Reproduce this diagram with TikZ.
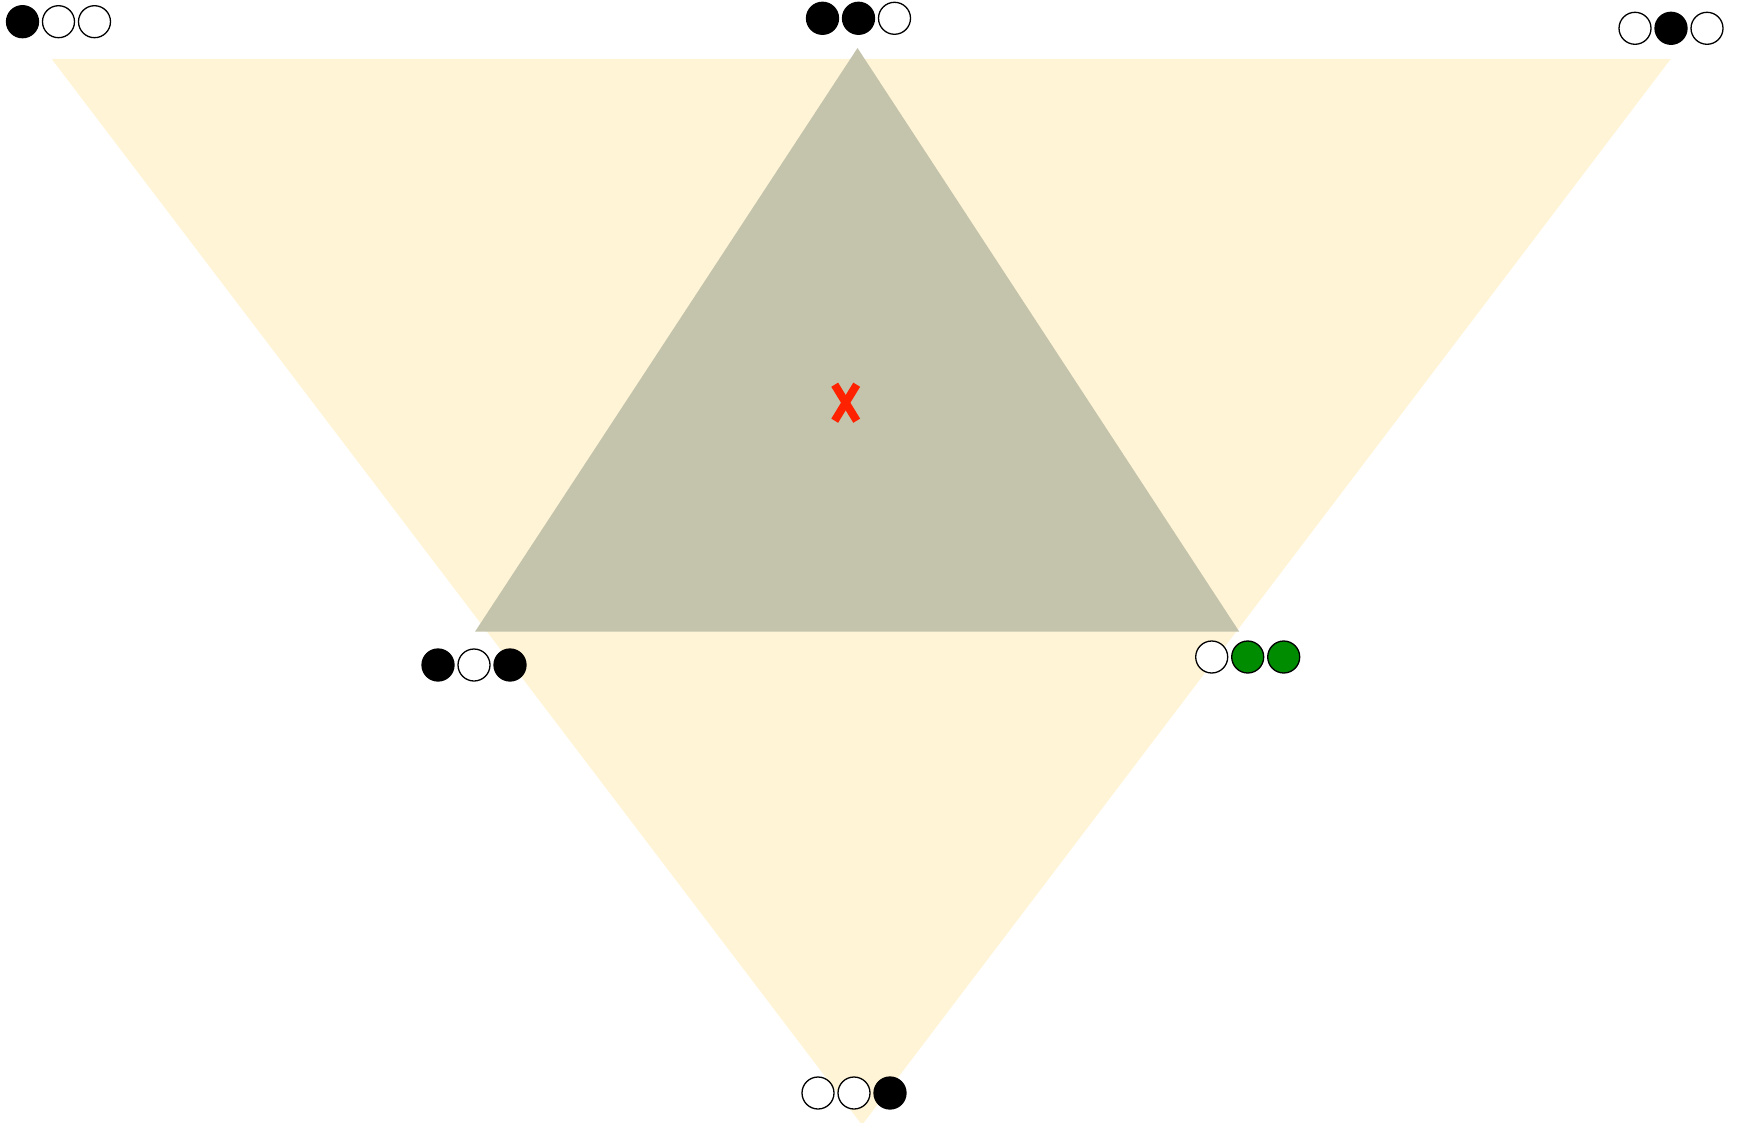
\documentclass[tikz,border=0pt]{standalone}
\usepackage{xcolor}
\usepackage{tikz}
\usetikzlibrary{positioning}
\definecolor{paleyellow}{HTML}{FFF4D6}
\definecolor{olivegray}{HTML}{C4C4AC}
\definecolor{stonegreen}{HTML}{008C00}
\definecolor{markred}{HTML}{FF2200}

\begin{document}
\begin{tikzpicture}[
  x=0.5pt, y=-0.5pt, node distance=1.35pt,
  bead/.style={circle, draw=black, line width=0.65pt, minimum size=16pt, inner sep=0pt},
  blackbead/.style={bead, fill=black},
  whitebead/.style={bead, fill=white},
  greenbead/.style={bead, fill=stonegreen},
  cross/.style={draw=markred, line width=4pt}
]
\useasboundingbox (0,0) rectangle (1744,1123);
\fill[paleyellow] (51.7,59) -- (1670.7,59) -- (862,1125) -- cycle;
\fill[olivegray] (857.5,48) -- (475,631.7) -- (1239.3,631.7) -- cycle;
\coordinate (mark) at (845.7,402.7);
\draw[cross] ([shift={(-11,-18)}]mark) -- ([shift={(11,18)}]mark);
\draw[cross] ([shift={(11,-18)}]mark) -- ([shift={(-11,18)}]mark);
\node[blackbead] (tl1) at (22.5,21.7) {};
\node[whitebead, right=of tl1] (tl2) {};
\node[whitebead, right=of tl2] (tl3) {};
\node[blackbead] (tm1) at (822.5,18.3) {};
\node[blackbead, right=of tm1] (tm2) {};
\node[whitebead, right=of tm2] (tm3) {};
\node[whitebead] (tr1) at (1635,28.3) {};
\node[blackbead, right=of tr1] (tr2) {};
\node[whitebead, right=of tr2] (tr3) {};
\node[blackbead] (ml1) at (438,665) {};
\node[whitebead, right=of ml1] (ml2) {};
\node[blackbead, right=of ml2] (ml3) {};
\node[whitebead] (mr1) at (1211.7,657) {};
\node[greenbead, right=of mr1] (mr2) {};
\node[greenbead, right=of mr2] (mr3) {};
\node[whitebead] (bm1) at (818,1093) {};
\node[whitebead, right=of bm1] (bm2) {};
\node[blackbead, right=of bm2] (bm3) {};
\end{tikzpicture}
\end{document}
